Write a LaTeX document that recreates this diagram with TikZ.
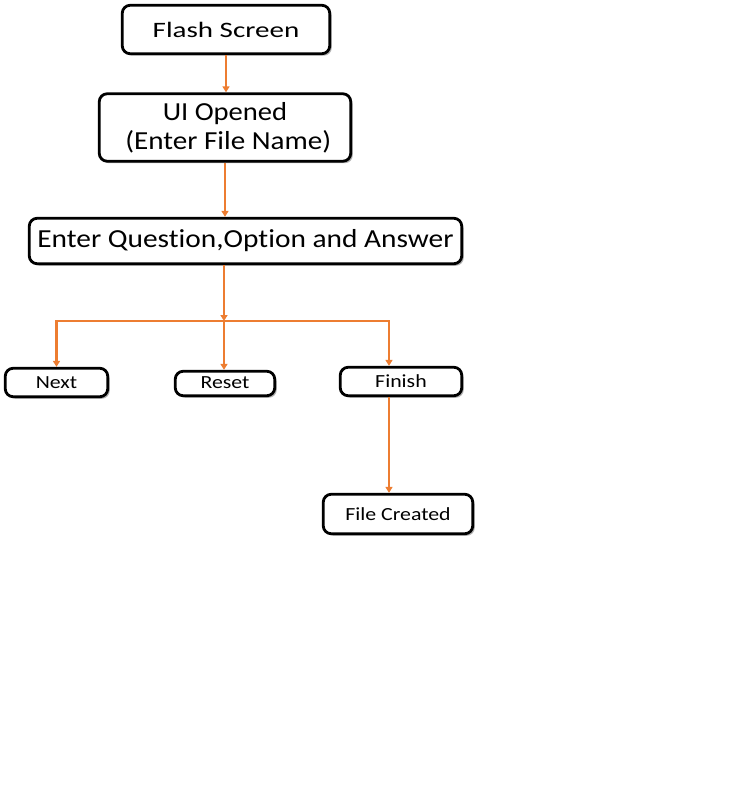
\documentclass[tikz,border=0pt]{standalone}
\usepackage{fontspec}
\usepackage{graphicx}
\setmainfont[Ligatures={NoCommon}]{Carlito}
\usetikzlibrary{arrows.meta,shadows}
\definecolor{arrorange}{HTML}{ED7D31}
\newcommand\hsc[2]{\scalebox{#1}[1]{#2}}
\tikzset{
  box/.style={draw=black, line width=2.8pt, rounded corners=8pt, fill=white,
    drop shadow={shadow xshift=2pt, shadow yshift=-2pt, fill=black, opacity=0.3},
    inner sep=0pt, align=center},
  bigtxt/.style={font=\fontsize{26}{31}\selectfont},
  smalltxt/.style={font=\fontsize{18.5}{22}\selectfont},
  arr/.style={draw=arrorange, line width=2.4pt, -{Triangle[length=6pt,width=7pt]}}
}
\begin{document}
\begin{tikzpicture}[x=1pt,y=-1pt]
\useasboundingbox (0,0) rectangle (729,805);
\node[box, font=\fontsize{22}{26}\selectfont, minimum width=207.5pt, minimum height=48.5pt] (flash) at (226,29.5) {\hsc{1.32}{Flash Screen}};
\node[box, bigtxt, minimum width=251.5pt, minimum height=67.5pt] (ui) at (225,127.5) {\hsc{1.1}{UI Opened}\\[-2pt]\hsc{1.12}{\ (Enter File Name)}};
\node[box, bigtxt, minimum width=432.5pt, minimum height=45.5pt] (eq) at (245.5,241) {\hsc{1.13}{Enter Question,Option and Answer}};
\node[box, smalltxt, minimum width=102.5pt, minimum height=28.5pt] (next) at (56.5,382.5) {\raisebox{-2pt}{\hsc{1.18}{Next}}};
\node[box, smalltxt, minimum width=99.5pt, minimum height=24.5pt] (reset) at (225,383.5) {\raisebox{1.5pt}{\hsc{1.18}{Reset}}};
\node[box, smalltxt, minimum width=121.5pt, minimum height=28.5pt] (finish) at (401,381.5) {\hsc{1.18}{Finish}};
\node[box, smalltxt, minimum width=149.5pt, minimum height=39.5pt] (fc) at (398,514) {\hsc{1.18}{File Created}};
\coordinate (j) at (224,321);
\draw[arr] (flash.south) -- (flash.south |- ui.north);
\draw[arr] (ui.south) -- (ui.south |- eq.north);
\draw[arr] (j |- eq.south) -- (j);
\draw[arr] (j) -| (next.north);
\draw[arr] (j) -- (j |- reset.north);
\draw[arr] (j) -| ([xshift=-12]finish.north);
\draw[arr] ([xshift=-12]finish.south) -- ([xshift=-12]finish.south |- fc.north);
\end{tikzpicture}
\end{document}
